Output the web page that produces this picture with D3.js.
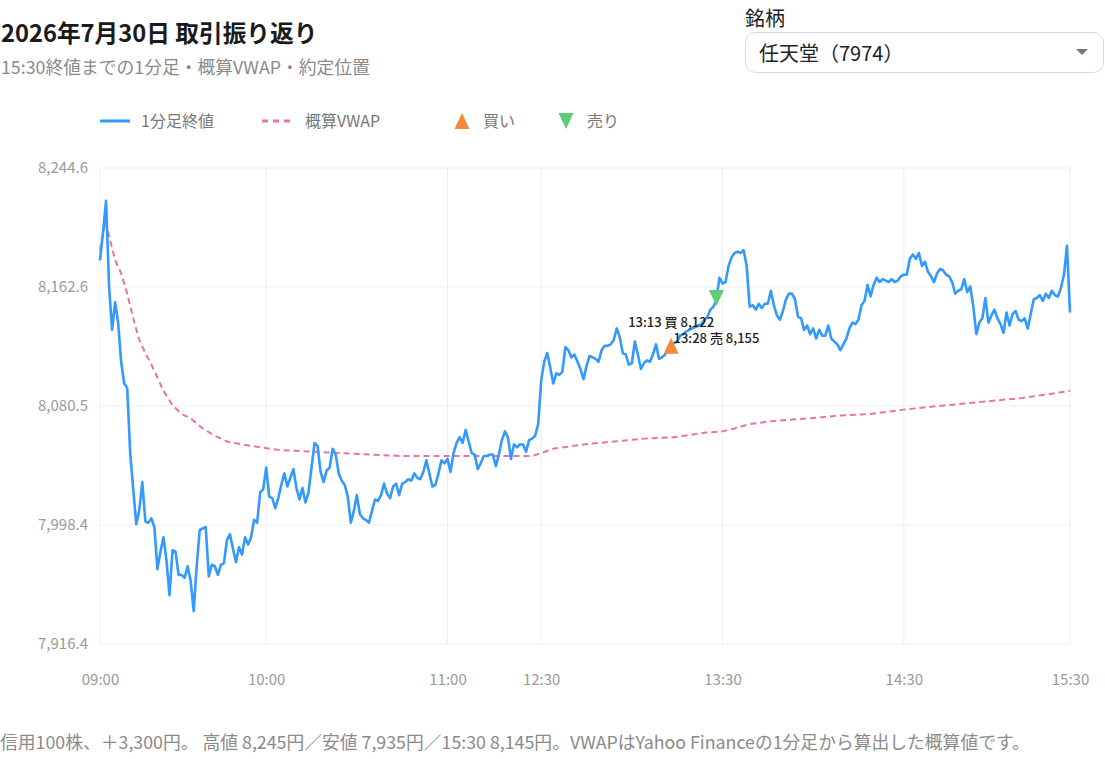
<!DOCTYPE html>
<html lang="ja">
<head>
<meta charset="utf-8">
<title>取引振り返り</title>
<script src="https://cdn.jsdelivr.net/npm/d3@7"></script>
<style>
body { margin: 0; background: #fff; }
svg text { font-family: "Noto Sans CJK JP", "Noto Sans", sans-serif; }
</style>
</head>
<body>
<div id="chart-area"></div>
<script>
/*
*    1分足 振り返りチャート
*/

// 1分足終値 (09:00 -> 15:30, 昼休み除く)
var closes = [
	8181, 8200, 8222, 8163, 8133, 8152, 8138, 8111, 8096, 8093,
	8048, 8023, 7999, 8009, 8028, 8001, 8000, 8003, 7997, 7968,
	7980, 7990, 7974, 7950, 7981, 7980, 7964, 7964, 7962, 7970,
	7960, 7939, 7970, 7995, 7996, 7997, 7963, 7971, 7970, 7964,
	7971, 7972, 7988, 7992, 7982, 7973, 7983, 7978, 7990, 7985,
	7990, 8002, 8000, 8021, 8023, 8038, 8018, 8017, 8010, 8017,
	8026, 8034, 8025, 8031, 8037, 8024, 8016, 8024, 8014, 8021,
	8038, 8055, 8053, 8035, 8028, 8036, 8038, 8051, 8047, 8034,
	8029, 8026, 8018, 8000, 8008, 8019, 8006, 8003, 8002, 8000,
	8008, 8016, 8015, 8019, 8027, 8020, 8017, 8025, 8027, 8019,
	8027, 8028, 8030, 8029, 8034, 8031, 8030, 8035, 8043, 8034,
	8025, 8026, 8034, 8043, 8041, 8044, 8035, 8048, 8055, 8059,
	8055, 8064, 8056, 8048, 8047, 8037, 8041, 8046, 8046, 8047,
	8047, 8039, 8047, 8057, 8063, 8059, 8044, 8054, 8052, 8054,
	8054, 8049, 8057, 8058, 8060, 8068, 8098, 8111, 8117, 8107,
	8096, 8103, 8102, 8104, 8121, 8119, 8114, 8116, 8111, 8106,
	8099, 8108, 8115, 8114, 8113, 8111, 8119, 8122, 8122, 8123,
	8126, 8134, 8128, 8117, 8116, 8109, 8110, 8125, 8116, 8106,
	8110, 8112, 8111, 8116, 8123, 8113, 8114, 8116, 8119, 8122,
	8124, 8125, 8129, 8130, 8132, 8133, 8134, 8135, 8136, 8137,
	8140, 8142, 8147, 8149, 8154, 8169, 8165, 8166, 8177, 8183,
	8186, 8187, 8186, 8188, 8177, 8149, 8150, 8147, 8151, 8148,
	8151, 8151, 8160, 8150, 8143, 8140, 8146, 8154, 8158, 8158,
	8154, 8142, 8141, 8133, 8136, 8130, 8134, 8127, 8133, 8129,
	8129, 8136, 8127, 8125, 8123, 8119, 8123, 8127, 8134, 8138,
	8137, 8140, 8150, 8153, 8164, 8156, 8164, 8169, 8166, 8168,
	8167, 8166, 8168, 8166, 8167, 8170, 8171, 8171, 8182, 8185,
	8182, 8186, 8177, 8180, 8173, 8170, 8166, 8172, 8175, 8174,
	8171, 8170, 8166, 8158, 8160, 8161, 8168, 8159, 8163, 8149,
	8130, 8138, 8141, 8155, 8138, 8143, 8147, 8141, 8137, 8131,
	8145, 8136, 8144, 8146, 8140, 8139, 8141, 8134, 8144, 8154,
	8155, 8157, 8153, 8158, 8155, 8160, 8157, 8156, 8162, 8171,
	8191, 8145
];

// 概算VWAP (足番号, 値)
var vwapIdx = [0, 1, 2, 3, 5, 7, 9, 11, 13, 15, 17, 19, 21, 24, 27, 30, 34, 38, 42, 47,
	53, 60, 70, 80, 90, 100, 115, 130, 143, 146, 150, 160, 170, 180, 190, 200, 206, 210, 215, 222,
	235, 245, 255, 266, 275, 285, 295, 305, 315, 321];
var vwapVal = [8188, 8200, 8208, 8198, 8181, 8172, 8158, 8141, 8126, 8117, 8109, 8100, 8091, 8081, 8075, 8072, 8065, 8060, 8056, 8054,
	8052, 8050, 8049, 8048, 8047, 8046, 8046, 8046, 8046, 8048, 8051, 8054, 8056, 8058, 8059, 8062, 8063, 8065, 8068, 8070,
	8072, 8074, 8075, 8078, 8080, 8082, 8084, 8086, 8089, 8091];

// x軸の目盛り (足番号)
var tickIdx = [0, 55, 115, 146, 206, 266, 321];
var tickLabels = ["09:00", "10:00", "11:00", "12:30", "13:30", "14:30", "15:30"];

// 約定
var tradeIdx = [189, 204];
var tradeSide = ["買", "売"];
var tradeTime = ["13:13", "13:28"];
var tradePrice = [8122, 8155];

var legendLabels = ["1分足終値", "概算VWAP", "買い", "売り"];

var titleText = "2026年7月30日 取引振り返り";
var subText = "15:30終値までの1分足・概算VWAP・約定位置";
var noteText = "信用100株、＋3,300円。 高値 8,245円／安値 7,935円／15:30 8,145円。VWAPはYahoo Financeの1分足から算出した概算値です。";
var stockName = "任天堂（7974）";

var blue = "#3399ff", pink = "#ee6fae", orange = "#f28a3c", green = "#5fcd75";

var mwidth = 1105, mheight = 759;
var plot = {left: 100, right: 1070, top: 168, bottom: 644};

var svg = d3.select("#chart-area").append("svg")
	.attr("width", mwidth)
	.attr("height", mheight);

// タイトル
svg.append("text")
	.attr("x", 1).attr("y", 42)
	.attr("font-size", "23.7px").attr("font-weight", "bold")
	.style("fill", "#1a1a1a")
	.text(titleText);

svg.append("text")
	.attr("x", 1).attr("y", 74)
	.attr("font-size", "17.8px")
	.style("fill", "#8a8a8a")
	.text(subText);

// 銘柄セレクト
svg.append("text")
	.attr("x", 745).attr("y", 26)
	.attr("font-size", "20px")
	.style("fill", "#222")
	.text("銘柄");

svg.append("rect")
	.attr("x", 745.5).attr("y", 32.5)
	.attr("width", 358).attr("height", 40)
	.attr("rx", 10)
	.style("fill", "#fff").style("stroke", "#d8d8d8");

svg.append("text")
	.attr("x", 759).attr("y", 61)
	.attr("font-size", "20px")
	.style("fill", "#222")
	.text(stockName);

svg.append("path")
	.attr("d", "M1076,49 L1088,49 L1082,55 Z")
	.style("fill", "#777");

// scales
var lo = d3.min(closes), hi = d3.max(closes);
var pad = (hi - lo) * 0.08;
var x = d3.scaleLinear().domain([0, closes.length - 1]).range([plot.left, plot.right]);
var y = d3.scaleLinear().domain([lo - pad, hi + pad]).range([plot.bottom, plot.top]);
var yTicks = d3.range(5).map((k) => { return y.domain()[0] + k * (y.domain()[1] - y.domain()[0]) / 4; });

var g = svg.append("g");

// grid
g.selectAll(".hgrid").data(yTicks).enter().append("line")
	.attr("class", "hgrid")
	.attr("x1", plot.left).attr("x2", plot.right)
	.attr("y1", (d) => { return y(d); }).attr("y2", (d) => { return y(d); })
	.style("stroke", "#efefef");

g.selectAll(".vgrid").data(tickIdx).enter().append("line")
	.attr("class", "vgrid")
	.attr("x1", (d) => { return x(d); }).attr("x2", (d) => { return x(d); })
	.attr("y1", plot.top).attr("y2", plot.bottom)
	.style("stroke", "#efefef");

// axes
var yAxis = d3.axisLeft(y)
	.tickValues(yTicks)
	.tickFormat(d3.format(",.1f"))
	.tickSize(0).tickPadding(12);

var xAxis = d3.axisBottom(x)
	.tickValues(tickIdx)
	.tickFormat((d, i) => { return tickLabels[i]; })
	.tickSize(0).tickPadding(30);

var ya = g.append("g")
	.attr("transform", "translate(" + plot.left + ",0)")
	.call(yAxis);
var xa = g.append("g")
	.attr("transform", "translate(0," + plot.bottom + ")")
	.call(xAxis);

[ya, xa].forEach((a) => {
	a.select(".domain").remove();
	a.selectAll("text")
		.style("fill", "#9a9a9a")
		.style("font-size", "15px")
		.style("font-family", "\"Noto Sans CJK JP\", \"Noto Sans\", sans-serif");
});

// lines
var vwapLine = d3.line()
	.x((d, i) => { return x(vwapIdx[i]); })
	.y((d) => { return y(d); });

g.append("path")
	.datum(vwapVal)
	.attr("d", vwapLine)
	.style("fill", "none")
	.style("stroke", pink)
	.style("stroke-width", 2)
	.style("stroke-dasharray", "6,4");

var priceLine = d3.line()
	.x((d, i) => { return x(i); })
	.y((d) => { return y(d); });

g.append("path")
	.datum(closes)
	.attr("d", priceLine)
	.style("fill", "none")
	.style("stroke", blue)
	.style("stroke-width", 2.6)
	.style("stroke-linejoin", "round");

// 約定マーカー
var up = "M0,-8 L7.5,8 L-7.5,8 Z";
var down = "M0,8 L7.5,-8 L-7.5,-8 Z";

tradeIdx.forEach((t, i) => {
	var px = x(t), py = y(tradePrice[i]);
	var buy = tradeSide[i] === "買";
	g.append("path")
		.attr("d", buy ? up : down)
		.attr("transform", "translate(" + px + "," + py + ")")
		.style("fill", buy ? orange : green);
	g.append("text")
		.attr("x", px)
		.attr("y", buy ? py - 19 : py + 45)
		.attr("text-anchor", "middle")
		.attr("font-size", "13px")
		.attr("font-weight", 500)
		.style("fill", "#222")
		.text(tradeTime[i] + " " + tradeSide[i] + " " + d3.format(",")(tradePrice[i]));
});

// legend
var lg = svg.append("g").attr("transform", "translate(0,121)");

lg.append("line").attr("x1", 100).attr("x2", 130).attr("y1", 0).attr("y2", 0)
	.style("stroke", blue).style("stroke-width", 3);
lg.append("text").attr("x", 141).attr("y", 5.5).text(legendLabels[0]);

lg.append("line").attr("x1", 262).attr("x2", 293).attr("y1", 0).attr("y2", 0)
	.style("stroke", pink).style("stroke-width", 3).style("stroke-dasharray", "6,5");
lg.append("text").attr("x", 305).attr("y", 5.5).text(legendLabels[1]);

lg.append("path").attr("d", up).attr("transform", "translate(462,0)").style("fill", orange);
lg.append("text").attr("x", 483).attr("y", 5.5).text(legendLabels[2]);

lg.append("path").attr("d", down).attr("transform", "translate(566,0)").style("fill", green);
lg.append("text").attr("x", 587).attr("y", 5.5).text(legendLabels[3]);

lg.selectAll("text").attr("font-size", "16px").style("fill", "#777");

// 注記
svg.append("text")
	.attr("x", 0).attr("y", 749)
	.attr("font-size", "17.8px")
	.style("fill", "#8a8a8a")
	.text(noteText);
</script>
</body>
</html>
